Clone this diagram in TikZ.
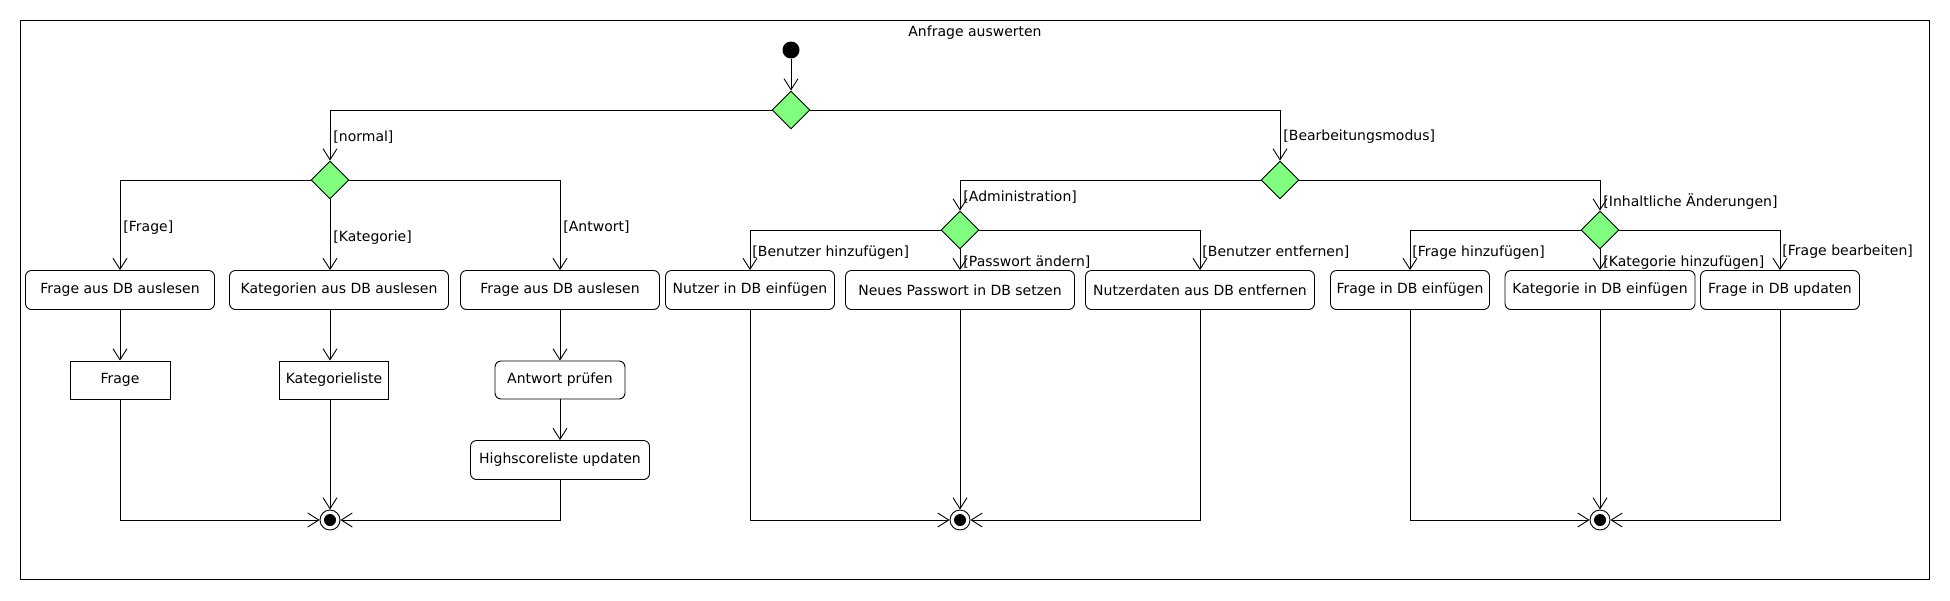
\documentclass[tikz,border=0pt]{standalone}
\usepackage{fontspec}
\setmainfont{DejaVu Sans}
\usetikzlibrary{shapes.geometric,arrows.meta}
\definecolor{branchgreen}{RGB}{128,255,128}

\begin{document}
\begin{tikzpicture}[x=1pt,y=-1pt,>={Straight Barb[length=11pt,width=14pt]},
        line width=0.9pt,font=\fontsize{14}{16}\selectfont,
        act/.style={draw,rounded corners=6pt,minimum height=39pt,inner xsep=4pt},
        obj/.style={draw,minimum height=38pt,inner xsep=4pt},
        branch/.style={diamond,draw,fill=branchgreen,minimum size=38pt,inner sep=0pt},
        guard/.style={anchor=west,inner sep=0pt},
        startnode/.style={circle,fill=black,minimum size=17pt,inner sep=0pt},
        endnode/.style={circle,draw,fill=white,minimum size=20pt,inner sep=0pt,
            path picture={\fill[black] (path picture bounding box.center) circle (6pt);}}]
        \useasboundingbox (0,0) rectangle (1950,600);
        \draw (20,20) rectangle (1929,579);
        \node (title) at (975,33) {Anfrage auswerten};
        \node[startnode] (s) at (791,50) {};
        \node[branch] (d0) at (791,110) {};
        \node[branch] (dn) at (330,180) {};
        \node[branch] (db) at (1280,180) {};
        \node[branch] (da) at (960,230) {};
        \node[branch] (di) at (1600,230) {};
        \node[act,minimum width=189pt] (b1) at (120,290) {Frage aus DB auslesen};
        \node[act,minimum width=219pt] (b2) at (339,290) {Kategorien aus DB auslesen};
        \node[act,minimum width=199pt] (b3) at (560,290) {Frage aus DB auslesen};
        \node[act,minimum width=169pt] (b4) at (750,290) {Nutzer in DB einfügen};
        \node[act,minimum width=229pt] (b5) at (960,290) {Neues Passwort in DB setzen};
        \node[act,minimum width=229pt] (b6) at (1200,290) {Nutzerdaten aus DB entfernen};
        \node[act,minimum width=159pt] (b7) at (1410,290) {Frage in DB einfügen};
        \node[act,minimum width=190pt] (b8) at (1600,290) {Kategorie in DB einfügen};
        \node[act,minimum width=159pt] (b9) at (1780,290) {Frage in DB updaten};
        \node[obj,minimum width=100pt] (frage) at (120,380) {Frage};
        \node[obj,minimum width=109pt] (katliste) at (334,380) {Kategorieliste};
        \node[act,minimum width=130pt,minimum height=38pt] (pruefen) at (560,380) {Antwort prüfen};
        \node[act,minimum width=179pt] (highscore) at (560,460) {Highscoreliste updaten};
        \node[endnode] (e1) at (330,520) {};
        \node[endnode] (e2) at (960,520) {};
        \node[endnode] (e3) at (1600,520) {};
        \draw[->] (s) -- (d0);
        \draw[->] (d0) -| (dn);
        \draw[->] (d0) -| (db);
        \draw[->] (dn) -| (b1);
        \draw[->] (dn.south) -- (dn.south |- b2.north);
        \draw[->] (dn) -| (b3);
        \draw[->] (db) -| (da);
        \draw[->] (db) -| (di);
        \draw[->] (da) -| (b4);
        \draw[->] (da) -- (b5);
        \draw[->] (da) -| (b6);
        \draw[->] (di) -| (b7);
        \draw[->] (di) -- (b8);
        \draw[->] (di) -| (b9);
        \draw[->] (b1) -- (frage);
        \draw[->] (e1 |- b2.south) -- (e1 |- katliste.north);
        \draw[->] (b3) -- (pruefen);
        \draw[->] (pruefen) -- (highscore);
        \draw[->] (frage) |- (e1);
        \draw[->] (katliste.south -| e1) -- (e1);
        \draw[->] (highscore) |- (e1);
        \draw[->] (b4) |- (e2);
        \draw[->] (b5) -- (e2);
        \draw[->] (b6) |- (e2);
        \draw[->] (b7) |- (e3);
        \draw[->] (b8) -- (e3);
        \draw[->] (b9) |- (e3);
        \node[guard] (gnormal) at (333,137) {[normal]};
        \node[guard] (gbearb) at (1283,137) {[Bearbeitungsmodus]};
        \node[guard] (gfrage) at (123,228) {[Frage]};
        \node[guard] (gkat) at (333,238) {[Kategorie]};
        \node[guard] (gantwort) at (563,227) {[Antwort]};
        \node[guard] (gadmin) at (963,197) {[Administration]};
        \node[guard] (ginhalt) at (1603,202) {[Inhaltliche Änderungen]};
        \node[guard] (gbhinzu) at (752,253) {[Benutzer hinzufügen]};
        \node[guard] (gpasswort) at (963,262) {[Passwort ändern]};
        \node[guard] (gbentf) at (1202,252) {[Benutzer entfernen]};
        \node[guard] (gfhinzu) at (1412,253) {[Frage hinzufügen]};
        \node[guard] (gkhinzu) at (1603,263) {[Kategorie hinzufügen]};
        \node[guard] (gfbearb) at (1782,252) {[Frage bearbeiten]};
\end{tikzpicture}
\end{document}
